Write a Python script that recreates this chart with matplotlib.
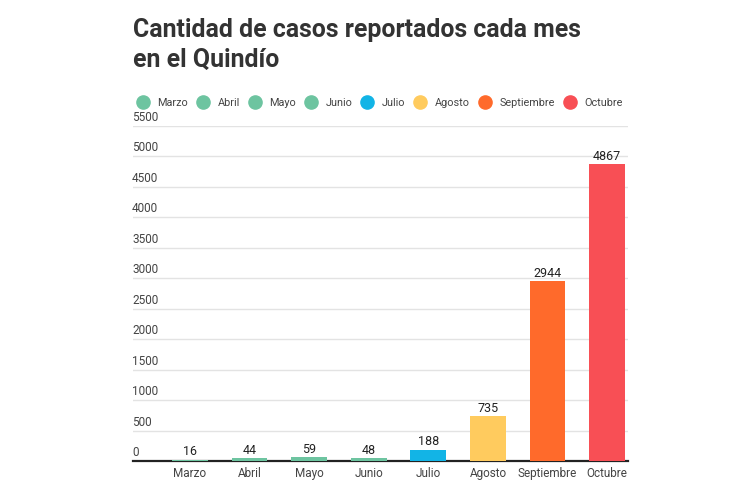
import matplotlib
matplotlib.use("Agg")
import matplotlib.pyplot as plt
from matplotlib.lines import Line2D
import matplotlib.transforms as mtransforms

plt.rcParams['font.family'] = ['Roboto', 'DejaVu Sans']

months = ["Marzo", "Abril", "Mayo", "Junio", "Julio", "Agosto", "Septiembre", "Octubre"]
cases = [16, 44, 59, 48, 188, 735, 2944, 4867]
colors = ["#6dc4a0", "#6dc4a0", "#6dc4a0", "#6dc4a0", "#12b4e6", "#ffcb5e", "#ff6a2b", "#f84f55"]
yticks = [0, 500, 1000, 1500, 2000, 2500, 3000, 3500, 4000, 4500, 5000, 5500]

fig = plt.figure(figsize=(7.5, 5), dpi=100)
W, H = 750, 500
ax = fig.add_axes([133 / W, 1 - 461 / H, (628 - 133) / W, (461 - 125.5) / H])

x = list(range(len(months)))
ax.bar(x, cases, width=0.6, color=colors, zorder=3)
ax.set_xlim(-0.956, 7.35)
ax.set_ylim(0, 5500)

for xi, v in zip(x, cases):
    ax.text(xi, v + 25, str(v), ha='center', va='bottom', fontsize=9, color='#222222', zorder=4)

ax.set_yticks(yticks)
ax.set_yticklabels([])
ax.tick_params(axis='y', length=0)
ax.grid(axis='y', color='#e3e3e3', linewidth=1, zorder=0)
trans = mtransforms.blended_transform_factory(ax.transAxes, ax.transData)
for t in yticks:
    ax.text(-0.002, t + 25, str(t), transform=trans, ha='left', va='bottom', fontsize=8.5, color='#444444')

ax.set_xticks(x)
ax.set_xticklabels(months, fontsize=8.5, color='#444444')
ax.tick_params(axis='x', length=0, pad=4)
for s in ['top', 'right', 'left']:
    ax.spines[s].set_visible(False)
ax.spines['bottom'].set_color('#222222')
ax.spines['bottom'].set_linewidth(1.6)

fig.text(133 / W, 1 - 30 / H, "Cantidad de casos reportados cada mes", fontsize=17.9, fontweight='bold',
         color='#333333', ha='left', va='center')
fig.text(133 / W, 1 - 60 / H, "en el Quindío", fontsize=17.9, fontweight='bold',
         color='#333333', ha='left', va='center')

handles = [Line2D([0], [0], marker='o', linestyle='', markersize=9.5, markerfacecolor=c, markeredgecolor=c)
           for c in colors]
leg = fig.legend(handles, months, loc='center left', bbox_to_anchor=(136.5 / W, 1 - 103 / H), ncol=8,
                 frameon=False, fontsize=7.8, handletextpad=0.72, columnspacing=0.8, borderaxespad=0,
                 handlelength=1.2, borderpad=0)
for t in leg.get_texts():
    t.set_color('#444444')

fig.savefig("out.png", dpi=100)
